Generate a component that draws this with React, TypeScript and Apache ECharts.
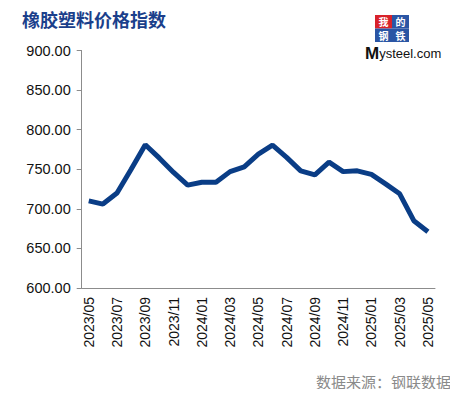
import React, { useEffect, useRef } from "react";
import * as echarts from "echarts";

const categories = [
  "2023/05", "2023/06", "2023/07", "2023/08", "2023/09", "2023/10", "2023/11", "2023/12",
  "2024/01", "2024/02", "2024/03", "2024/04", "2024/05", "2024/06", "2024/07", "2024/08",
  "2024/09", "2024/10", "2024/11", "2024/12", "2025/01", "2025/02", "2025/03", "2025/04", "2025/05",
];
const values = [
  710, 706, 720, 750, 781, 764, 746, 730,
  733.5, 733.5, 747, 753, 769, 780.5, 765, 748,
  743, 759, 747, 748, 743.5, 731.5, 719, 685, 671,
];
const yMin = 600;
const yMax = 900;
const yStep = 50;
const title = "橡胶塑料价格指数";
const source = "数据来源：钢联数据";

export default function App() {
  const ref = useRef<HTMLDivElement>(null);
  useEffect(() => {
    if (!ref.current) return;
    const chart = echarts.init(ref.current, null, { renderer: "svg" });
    const sq = (x: number, y: number, bg: string, ch: string) => ({
      type: "group",
      x,
      y,
      children: [
        { type: "rect", shape: { x: 0, y: 0, width: 17, height: 13.5 }, style: { fill: bg } },
        {
          type: "text",
          x: 8.5,
          y: 6.75,
          style: {
            text: ch,
            fill: "#fff",
            font: "bold 10px 'Noto Sans CJK SC'",
            lineHeight: 11,
            align: "center",
            verticalAlign: "middle",
          },
        },
      ],
    });
    chart.setOption({
      animation: false,
      backgroundColor: "#fff",
      grid: { left: 81.7, right: 23, top: 50.5, bottom: 109, containLabel: false },
      graphic: [
        {
          type: "text",
          left: 22,
          top: 10,
          style: {
            text: title,
            fill: "#1b3f8b",
            font: "bold 18px 'Noto Sans CJK SC'",
          },
        },
        sq(375, 15, "#d8222b", "我"),
        sq(392, 15, "#2a55a4", "的"),
        sq(375, 28.5, "#2a55a4", "钢"),
        sq(392, 28.5, "#2a55a4", "铁"),
        {
          type: "text",
          x: 365,
          y: 62,
          style: {
            text: "{a|M}{b|ysteel.com}",
            verticalAlign: "bottom",
            rich: {
              a: { fill: "#111", font: "bold 17px 'Liberation Sans'" },
              b: { fill: "#111", font: "13px 'Liberation Sans'" },
            },
          },
        },
        {
          type: "text",
          right: 7,
          top: 374,
          style: {
            text: source,
            fill: "#8a8a8a",
            font: "15px 'Noto Sans CJK SC'",
          },
        },
      ],
      xAxis: {
        type: "category",
        data: categories,
        boundaryGap: true,
        axisLine: { lineStyle: { color: "#8c8c8c", width: 1 } },
        axisTick: { interval: 1, length: 6, lineStyle: { color: "#8c8c8c" } },
        axisLabel: {
          interval: 1,
          rotate: 90,
          margin: 9,
          color: "#111",
          fontSize: 14,
          fontFamily: "Liberation Sans",
        },
        splitLine: { show: false },
      },
      yAxis: {
        type: "value",
        min: yMin,
        max: yMax,
        interval: yStep,
        axisLine: { show: true, lineStyle: { color: "#8c8c8c", width: 1 } },
        axisTick: { show: true, length: 5, lineStyle: { color: "#8c8c8c" } },
        axisLabel: {
          margin: 11,
          color: "#111",
          fontSize: 14.5,
          fontFamily: "Liberation Sans",
          formatter: (v: number) => v.toFixed(2),
        },
        splitLine: { show: false },
      },
      series: [
        {
          type: "line",
          data: values,
          symbol: "none",
          lineStyle: { color: "#0a3d86", width: 5 },
        },
      ],
    });
    return () => chart.dispose();
  }, []);
  return <div ref={ref} style={{ width: 458, height: 397, margin: -8 }} />;
}
